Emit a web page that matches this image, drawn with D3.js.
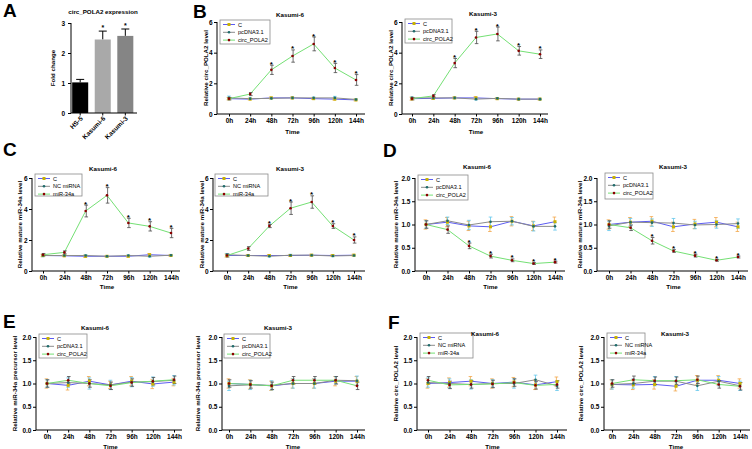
<!DOCTYPE html>
<html><head><meta charset="utf-8">
<script src="https://cdn.jsdelivr.net/npm/d3@7"></script>
<style>
body{margin:0;background:#fff}
svg{display:block}
text{font-family:"Liberation Sans",Arial,Helvetica,sans-serif}
</style>
</head><body>
<svg id="c" width="752" height="449"></svg>
<script>
// ---------- DATA ----------
const timeLabels = ["0h","24h","48h","72h","96h","120h","144h"];

// Panel A
const barCategories = ["HS-5","Kasumi-6","Kasumi-3"];
const barValues = [1.02, 2.45, 2.57];
const barErrors = [0.10, 0.28, 0.23];
const barTicks = [0,1,2,3];

const legendPc = ["C","pcDNA3.1","circ_POLA2"];
const legendMi = ["C","NC miRNA","miR-34a"];
const ticksBig = [0,2,4,6];
const ticksSmall = [0,0.5,1.0,1.5,2.0];

// Panel B, Kasumi-6
const b6C = [1.00,0.97,1.05,1.05,1.00,0.97,0.92];
const b6CErr = [0.08,0.05,0.06,0.06,0.05,0.06,0.06];
const b6Pc = [1.05,1.00,1.02,1.05,1.05,1.05,0.95];
const b6PcErr = [0.12,0.05,0.05,0.05,0.05,0.10,0.05];
const b6Circ = [1.00,1.30,2.88,3.78,4.57,3.00,2.22];
const b6CircErr = [0.08,0.10,0.30,0.40,0.45,0.30,0.35];
// Panel B, Kasumi-3
const b3C = [1.00,1.02,1.05,1.05,1.00,0.97,0.97];
const b3CErr = [0.10,0.06,0.06,0.08,0.06,0.05,0.06];
const b3Pc = [1.05,1.05,1.05,0.97,1.02,0.97,0.97];
const b3PcErr = [0.06,0.06,0.05,0.06,0.05,0.05,0.05];
const b3Circ = [1.00,1.18,3.32,4.99,5.22,4.12,3.90];
const b3CircErr = [0.08,0.08,0.30,0.40,0.45,0.28,0.28];

// Panel C, Kasumi-6
const c6C = [1.00,0.98,0.95,0.95,0.95,1.05,1.00];
const c6CErr = [0.08,0.05,0.08,0.05,0.05,0.08,0.06];
const c6Nc = [1.00,1.00,1.00,0.95,1.00,0.95,1.02];
const c6NcErr = [0.08,0.05,0.06,0.05,0.05,0.06,0.05];
const c6Mi = [1.05,1.20,3.87,4.88,3.10,2.88,2.45];
const c6MiErr = [0.08,0.10,0.38,0.50,0.30,0.30,0.30];
// Panel C, Kasumi-3
const c3C = [1.00,1.00,1.00,1.00,1.02,1.00,1.02];
const c3CErr = [0.10,0.06,0.06,0.06,0.06,0.06,0.06];
const c3Nc = [1.05,1.00,0.95,1.02,1.02,0.97,1.00];
const c3NcErr = [0.08,0.05,0.05,0.06,0.05,0.05,0.05];
const c3Mi = [1.00,1.45,2.90,4.05,4.45,2.90,2.00];
const c3MiErr = [0.10,0.12,0.10,0.40,0.40,0.15,0.20];

// Panel D, Kasumi-6
const d6C = [1.00,1.05,0.97,0.95,1.07,0.97,1.06];
const d6CErr = [0.10,0.10,0.10,0.10,0.10,0.10,0.10];
const d6Pc = [1.00,1.08,0.99,1.06,1.07,0.96,0.96];
const d6PcErr = [0.08,0.08,0.10,0.10,0.08,0.10,0.08];
const d6Circ = [1.00,0.89,0.54,0.32,0.23,0.16,0.19];
const d6CircErr = [0.08,0.08,0.06,0.04,0.03,0.02,0.02];
// Panel D, Kasumi-3
const d3C = [1.00,1.05,1.07,0.95,1.01,1.05,0.95];
const d3CErr = [0.10,0.10,0.10,0.10,0.10,0.10,0.10];
const d3Pc = [0.97,1.05,1.04,1.03,0.99,1.00,1.02];
const d3PcErr = [0.10,0.08,0.08,0.10,0.08,0.08,0.10];
const d3Circ = [1.00,0.93,0.65,0.43,0.33,0.23,0.30];
const d3CircErr = [0.08,0.06,0.07,0.03,0.03,0.02,0.02];

// Panel E, Kasumi-6
const e6C = [1.00,0.96,1.05,0.97,1.05,0.99,1.03];
const e6CErr = [0.10,0.10,0.10,0.08,0.10,0.10,0.08];
const e6Pc = [1.00,1.02,1.00,0.97,1.03,1.04,1.07];
const e6PcErr = [0.08,0.10,0.12,0.10,0.10,0.10,0.10];
const e6Circ = [1.00,1.07,1.00,0.95,1.02,1.05,1.08];
const e6CircErr = [0.08,0.08,0.08,0.08,0.08,0.08,0.08];
// Panel E, Kasumi-3
const e3C = [1.00,0.98,0.95,1.00,1.00,1.05,1.05];
const e3CErr = [0.10,0.10,0.10,0.10,0.10,0.10,0.10];
const e3Pc = [0.95,0.97,0.96,1.00,1.00,1.07,1.06];
const e3PcErr = [0.10,0.10,0.10,0.10,0.10,0.08,0.10];
const e3Circ = [1.00,0.98,0.95,1.07,1.07,1.07,0.95];
const e3CircErr = [0.08,0.08,0.08,0.08,0.08,0.08,0.08];

// Panel F, Kasumi-6
const f6C = [1.00,1.02,1.05,1.00,1.03,0.97,1.04];
const f6CErr = [0.10,0.10,0.10,0.10,0.10,0.10,0.10];
const f6Nc = [1.02,1.00,0.98,1.00,1.00,1.08,0.95];
const f6NcErr = [0.10,0.10,0.10,0.08,0.10,0.10,0.10];
const f6Mi = [1.07,0.97,0.98,0.99,1.02,0.96,0.98];
const f6MiErr = [0.08,0.08,0.08,0.08,0.08,0.08,0.08];
// Panel F, Kasumi-3
const f3C = [0.98,0.97,0.98,0.94,1.07,1.07,1.00];
const f3CErr = [0.10,0.10,0.10,0.10,0.10,0.10,0.10];
const f3Nc = [0.98,1.00,1.05,1.05,0.95,1.05,0.95];
const f3NcErr = [0.10,0.10,0.10,0.10,0.10,0.10,0.10];
const f3Mi = [1.00,1.08,1.06,1.06,1.08,0.98,0.94];
const f3MiErr = [0.08,0.08,0.08,0.08,0.08,0.08,0.08];

// ---------- STYLE ----------
const lineColors = ["#5c5cf2","#8c8c8c","#74e074"];
const markColors = ["#c9b200","#1f6b6b","#8b0000"];
const errColors  = ["#f3a648","#62c6ec","#4a4a4a"];
const FONT_TICK = 6.5, FONT_LAB = 6.2, FONT_TITLE = 6.2, FONT_LEG = 5.6;

const svg = d3.select("#c");

function letter(t, x, y){
  svg.append("text").attr("x",x).attr("y",y).attr("font-size",19).attr("font-weight","bold").text(t);
}

function yLabel(g, text, x, yc){
  g.append("text").attr("transform",`translate(${x},${yc}) rotate(-90)`)
    .attr("text-anchor","middle").attr("font-size",FONT_LAB).attr("font-weight","bold").text(text);
}

// ---------- PANEL A ----------
(function(){
  const g = svg.append("g");
  const ax = 71, yb = 113, yt = 23;
  const x = d3.scaleBand().domain(barCategories).range([71.5,134]).paddingInner(0.29).paddingOuter(0.03);
  const y = d3.scaleLinear().domain([0,3]).range([yb,yt]);
  const colors = ["#000000","#a9a9a9","#858585"];
  barCategories.forEach((c,i)=>{
    const cx = x(c)+x.bandwidth()/2;
    g.append("line").attr("x1",cx).attr("x2",cx).attr("y1",y(barValues[i])).attr("y2",y(barValues[i]+barErrors[i]))
      .attr("stroke","#000").attr("stroke-width",1);
    g.append("line").attr("x1",cx-4).attr("x2",cx+4).attr("y1",y(barValues[i]+barErrors[i])).attr("y2",y(barValues[i]+barErrors[i]))
      .attr("stroke","#000").attr("stroke-width",1);
    g.append("rect").attr("x",x(c)).attr("width",x.bandwidth()).attr("y",y(barValues[i]))
      .attr("height",yb-y(barValues[i])).attr("fill",colors[i]);
    if(i>0) g.append("text").attr("x",cx).attr("y",y(barValues[i]+barErrors[i])-1.5).attr("text-anchor","middle")
      .attr("font-size",7).attr("font-weight","bold").text("*");
    g.append("text").attr("transform",`translate(${cx+3},${yb+6}) rotate(-45)`).attr("text-anchor","end")
      .attr("font-size",FONT_TICK).attr("font-weight","bold").text(c);
    g.append("line").attr("x1",cx).attr("x2",cx).attr("y1",yb).attr("y2",yb+2.5).attr("stroke","#000");
  });
  const ya = g.append("g").attr("transform",`translate(${ax},0)`)
    .call(d3.axisLeft(y).tickValues(barTicks).tickSize(3).tickFormat(d3.format("d")));
  ya.select(".domain").remove();
  ya.selectAll("text").attr("font-size",FONT_TICK).attr("font-weight","bold").attr("font-family","Liberation Sans, Arial, sans-serif");
  g.append("line").attr("x1",ax).attr("x2",ax).attr("y1",yt).attr("y2",yb).attr("stroke","#000");
  g.append("line").attr("x1",ax).attr("x2",137).attr("y1",yb).attr("y2",yb).attr("stroke","#000");
  yLabel(g,"Fold change",55,(yb+yt)/2);
  g.append("text").attr("x",103).attr("y",14).attr("text-anchor","middle").attr("font-size",FONT_TITLE)
    .attr("font-weight","bold").text("circ_POLA2 expression");
})();

// ---------- LINE PANELS ----------
function linePanel(cfg){
  const g = svg.append("g");
  const x = d3.scalePoint().domain(timeLabels).range([cfg.x0,cfg.x1]);
  const y = d3.scaleLinear().domain([0,cfg.max]).range([cfg.yb,cfg.yt]);
  const fmt = cfg.max>2 ? d3.format("d") : d3.format(".1f");

  // axes
  const xa = g.append("g").attr("transform",`translate(0,${cfg.yb})`)
    .call(d3.axisBottom(x).tickSize(2.5).tickPadding(2));
  xa.select(".domain").remove();
  xa.selectAll("text").attr("font-size",FONT_TICK).attr("font-weight","bold").attr("font-family","Liberation Sans, Arial, sans-serif");
  const ya = g.append("g").attr("transform",`translate(${cfg.ax},0)`)
    .call(d3.axisLeft(y).tickValues(cfg.ticks).tickSize(3).tickPadding(1.5).tickFormat(fmt));
  ya.select(".domain").remove();
  ya.selectAll("text").attr("font-size",FONT_TICK).attr("font-weight","bold").attr("font-family","Liberation Sans, Arial, sans-serif");
  g.append("line").attr("x1",cfg.ax).attr("x2",cfg.ax).attr("y1",cfg.yt).attr("y2",cfg.yb).attr("stroke","#000");
  g.append("line").attr("x1",cfg.ax).attr("x2",cfg.xe).attr("y1",cfg.yb).attr("y2",cfg.yb).attr("stroke","#000");

  // lines
  const line = d3.line().x((d,i)=>x(timeLabels[i])).y(d=>y(d));
  cfg.series.forEach((s,k)=>{
    g.append("path").attr("d",line(s.v)).attr("fill","none").attr("stroke",lineColors[k]).attr("stroke-width",1);
  });
  // error bars
  cfg.series.forEach((s,k)=>{
    s.v.forEach((v,i)=>{
      const cx = x(timeLabels[i]) + (k-1)*0.6;
      const e = s.e[i];
      g.append("line").attr("x1",cx).attr("x2",cx).attr("y1",y(v-e)).attr("y2",y(v+e)).attr("stroke",errColors[k]).attr("stroke-width",0.8);
      [v-e,v+e].forEach(t=>g.append("line").attr("x1",cx-1.8).attr("x2",cx+1.8).attr("y1",y(t)).attr("y2",y(t))
        .attr("stroke",errColors[k]).attr("stroke-width",0.8));
    });
  });
  // markers
  cfg.series.forEach((s,k)=>{
    s.v.forEach((v,i)=>drawMarker(g,k,x(timeLabels[i]),y(v)));
  });
  // stars
  if(cfg.stars){
    const s = cfg.series[2];
    cfg.stars.forEach(i=>{
      g.append("text").attr("x",x(timeLabels[i])).attr("y",y(s.v[i]+s.e[i])+1.5).attr("text-anchor","middle")
        .attr("font-size",8).attr("font-weight","bold").text("*");
    });
  }
  // legend
  const L = cfg.legend;
  g.append("rect").attr("x",L[0]).attr("y",L[1]).attr("width",L[2]).attr("height",L[3])
    .attr("fill","#fff").attr("stroke","#8a8a8a").attr("stroke-width",0.8);
  cfg.names.forEach((n,k)=>{
    const ry = L[1]+4.5+k*7.8;
    g.append("line").attr("x1",L[0]+3).attr("x2",L[0]+15).attr("y1",ry).attr("y2",ry).attr("stroke",lineColors[k]).attr("stroke-width",1);
    drawMarker(g,k,L[0]+9,ry);
    g.append("text").attr("x",L[0]+18).attr("y",ry+2).attr("font-size",FONT_LEG).text(n);
  });
  // titles
  g.append("text").attr("x",cfg.title[0]).attr("y",cfg.title[1]+2).attr("text-anchor","middle")
    .attr("font-size",FONT_TITLE).attr("font-weight","bold").text(cfg.title[2]);
  yLabel(g,cfg.ylab,cfg.ylx,(cfg.yb+cfg.yt)/2);
  g.append("text").attr("x",(cfg.x0+cfg.x1)/2).attr("y",cfg.timeY+2).attr("text-anchor","middle")
    .attr("font-size",FONT_LAB).attr("font-weight","bold").text("Time");
}

function drawMarker(g,k,cx,cy){
  if(k===0){
    g.append("rect").attr("x",cx-1.5).attr("y",cy-1.5).attr("width",3).attr("height",3).attr("fill",markColors[0]);
  } else {
    g.append("circle").attr("cx",cx).attr("cy",cy).attr("r",1.3).attr("fill",markColors[k]);
  }
}

const ylB = "Relative circ_POLA2 level";
const ylC = "Relative mature miR-34a level";
const ylE = "Relative miR-34a precursor level";
const starIdx = [2,3,4,5,6];

linePanel({ax:217,x0:229,x1:356,xe:365,yb:114,yt:22,max:6,ticks:ticksBig,
  series:[{v:b6C,e:b6CErr},{v:b6Pc,e:b6PcErr},{v:b6Circ,e:b6CircErr}],stars:starIdx,
  legend:[220,20,50,24],names:legendPc,title:[290,15,"Kasumi-6"],ylab:ylB,ylx:208,timeY:132});
linePanel({ax:402,x0:412,x1:540,xe:548,yb:114,yt:22,max:6,ticks:ticksBig,
  series:[{v:b3C,e:b3CErr},{v:b3Pc,e:b3PcErr},{v:b3Circ,e:b3CircErr}],stars:starIdx,
  legend:[405,19,47,24],names:legendPc,title:[483,14,"Kasumi-3"],ylab:ylB,ylx:393,timeY:132});

linePanel({ax:32,x0:43,x1:171,xe:180,yb:271,yt:178,max:6,ticks:ticksBig,
  series:[{v:c6C,e:c6CErr},{v:c6Nc,e:c6NcErr},{v:c6Mi,e:c6MiErr}],stars:starIdx,
  legend:[35,174,47,22],names:legendMi,title:[103,169,"Kasumi-6"],ylab:ylC,ylx:22,timeY:287});
linePanel({ax:213,x0:227,x1:354,xe:365,yb:271,yt:178,max:6,ticks:ticksBig,
  series:[{v:c3C,e:c3CErr},{v:c3Nc,e:c3NcErr},{v:c3Mi,e:c3MiErr}],stars:starIdx,
  legend:[215,174,53,22],names:legendMi,title:[290,169,"Kasumi-3"],ylab:ylC,ylx:204,timeY:287});

linePanel({ax:415,x0:426,x1:555,xe:565,yb:271,yt:178,max:2,ticks:ticksSmall,
  series:[{v:d6C,e:d6CErr},{v:d6Pc,e:d6PcErr},{v:d6Circ,e:d6CircErr}],stars:starIdx,
  legend:[418,175,50,25],names:legendPc,title:[477,167,"Kasumi-6"],ylab:ylC,ylx:398,timeY:287});
linePanel({ax:597,x0:609,x1:738,xe:748,yb:271,yt:178,max:2,ticks:ticksSmall,
  series:[{v:d3C,e:d3CErr},{v:d3Pc,e:d3PcErr},{v:d3Circ,e:d3CircErr}],stars:starIdx,
  legend:[605,173,48,26],names:legendPc,title:[673,167,"Kasumi-3"],ylab:ylC,ylx:582,timeY:287});

linePanel({ax:36,x0:47,x1:174,xe:182,yb:430,yt:337,max:2,ticks:ticksSmall,
  series:[{v:e6C,e:e6CErr},{v:e6Pc,e:e6PcErr},{v:e6Circ,e:e6CircErr}],
  legend:[39,334,48,24],names:legendPc,title:[95,328,"Kasumi-6"],ylab:ylE,ylx:17,timeY:447});
linePanel({ax:222,x0:229,x1:357,xe:365,yb:430,yt:337,max:2,ticks:ticksSmall,
  series:[{v:e3C,e:e3CErr},{v:e3Pc,e:e3PcErr},{v:e3Circ,e:e3CircErr}],
  legend:[224,334,46,24],names:legendPc,title:[278,328,"Kasumi-3"],ylab:ylE,ylx:200,timeY:447});

linePanel({ax:417,x0:428,x1:557,xe:567,yb:430,yt:337,max:2,ticks:ticksSmall,
  series:[{v:f6C,e:f6CErr},{v:f6Nc,e:f6NcErr},{v:f6Mi,e:f6MiErr}],
  legend:[420,333,53,25],names:legendMi,title:[485,334,"Kasumi-6"],ylab:ylB,ylx:398,timeY:447});
linePanel({ax:604,x0:612,x1:740,xe:750,yb:430,yt:337,max:2,ticks:ticksSmall,
  series:[{v:f3C,e:f3CErr},{v:f3Nc,e:f3NcErr},{v:f3Mi,e:f3MiErr}],
  legend:[607,333,38,25],names:legendMi,title:[675,334,"Kasumi-3"],ylab:ylB,ylx:583,timeY:447});

letter("A",3,17); letter("B",193,18); letter("C",3,156); letter("D",383,157); letter("E",3,328); letter("F",388,329);
</script>
</body></html>
